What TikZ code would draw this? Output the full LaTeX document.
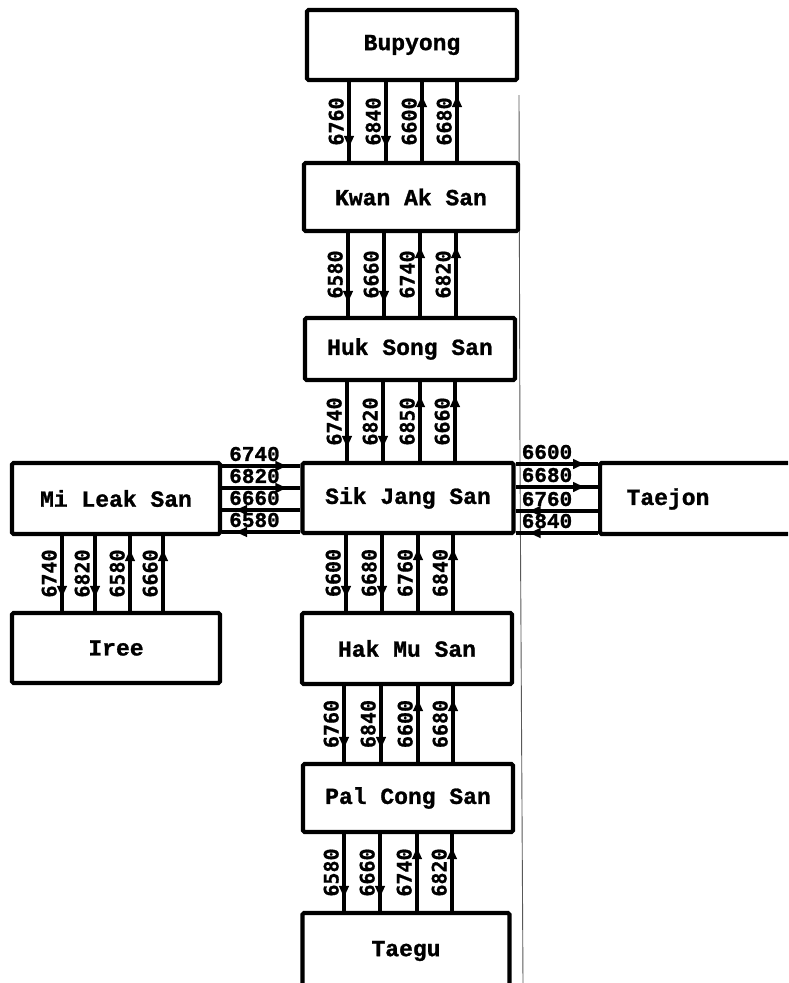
\documentclass[tikz,border=0pt]{standalone}
\usepackage{fontspec}
\usetikzlibrary{calc,decorations.markings,arrows.meta}
\newfontfamily\boxfont{Liberation Mono}[FakeBold=1.2]
\newfontfamily\numfont{DejaVu Sans Mono}[FakeBold=0.8]
\tikzset{
  box/.style={draw, line width=4.2pt, rounded corners=1.5pt, inner sep=0pt,
    font=\boxfont\bfseries\fontsize{23}{26}\selectfont},
  conn/.style={line width=3.4pt},
  arr/.style={postaction={decorate}, decoration={markings,
    mark=at position -11pt with {\arrow{Latex[length=14pt,width=11pt]}}}},
  vlab/.style={rotate=90, inner sep=0pt, anchor=south,
    font=\numfont\bfseries\fontsize{20}{22}\selectfont},
  hlab/.style={inner sep=0pt, anchor=west,
    font=\boxfont\bfseries\fontsize{21}{23}\selectfont},
  scanline/.style={line width=0.9pt, black!65}
}
\newcommand\mkvlink[3]{%
  \foreach \xx/\lab/\dd in {#3} {
    \coordinate (cc) at (\xx,0);
    \ifnum\dd=1
      \draw[conn,arr] (#1.south -| cc) -- (#2.north -| cc);
    \else
      \draw[conn,arr] (#2.north -| cc) -- (#1.south -| cc);
    \fi
    \node[vlab] at ($(#1.south -| cc)!0.5!(#2.north -| cc)+(-5,0)$) {\lab};
  }}
\begin{document}
\begin{tikzpicture}[x=1pt,y=-1pt]
\useasboundingbox (0,0) rectangle (788,983);
\clip (0,0) rectangle (788,983);
\fill[white] (0,0) rectangle (788,983);

% scan line on the right of the column
\draw[scanline] (519,95) -- (520,460) -- (523,983);

% boxes
\node[box, minimum width=210, minimum height=70] (Bup)  at (412,45)  {Bupyong};
\node[box, minimum width=214, minimum height=68] (Kwan) at (411,197) {Kwan Ak San};
\node[box, minimum width=210, minimum height=62] (Huk)  at (410,349) {Huk Song San};
\node[box, minimum width=211, minimum height=70] (Sik)  at (408,498) {Sik Jang San};
\node[box, minimum width=208, minimum height=71] (MiL)  at (116,498.5) {Mi Leak San};
\node[box, minimum width=210, minimum height=71, anchor=west] (Tae) at (598,498.5) {};
\node[inner sep=0pt, font=\boxfont\bfseries\fontsize{23}{26}\selectfont] (TaeT) at (668,499) {Taejon};
\node[box, minimum width=208, minimum height=70] (Iree) at (116,648) {Iree};
\node[box, minimum width=210, minimum height=71] (Hak)  at (407,648.5) {Hak Mu San};
\node[box, minimum width=210, minimum height=68] (Pal)  at (408,798) {Pal Cong San};
\node[box, minimum width=207, minimum height=76] (Tgu)  at (406,951) {Taegu};

% vertical links
\mkvlink{Bup}{Kwan}{349/6760/1, 386/6840/1, 422/6600/0, 457/6680/0}
\mkvlink{Kwan}{Huk}{348/6580/1, 384/6660/1, 420/6740/0, 456/6820/0}
\mkvlink{Huk}{Sik}{347/6740/1, 383/6820/1, 420/6850/0, 455/6660/0}
\mkvlink{Sik}{Hak}{346/6600/1, 382/6680/1, 418/6760/0, 453/6840/0}
\mkvlink{Hak}{Pal}{344/6760/1, 381/6840/1, 418/6600/0, 453/6680/0}
\mkvlink{Pal}{Tgu}{344/6580/1, 380/6660/1, 417/6740/0, 452/6820/0}
\mkvlink{MiL}{Iree}{62/6740/1, 95/6820/1, 130/6580/0, 163/6660/0}

% horizontal links Mi Leak San -- Sik Jang San
\foreach \yy/\lab/\dd in {466/6740/1, 488/6820/1, 510/6660/0, 532/6580/0} {
  \coordinate (cc) at (0,\yy);
  \ifnum\dd=1
    \draw[conn,arr] (MiL.east |- cc) -- (Sik.west |- cc);
  \else
    \draw[conn,arr] (Sik.west |- cc) -- (MiL.east |- cc);
  \fi
  \node[hlab] at ($(MiL.east |- cc)+(7,-12)$) {\lab};
}
% horizontal links Sik Jang San -- Taejon
\foreach \yy/\lab/\dd in {464/6600/1, 487/6680/1, 511/6760/0, 533/6840/0} {
  \coordinate (cc) at (0,\yy);
  \ifnum\dd=1
    \draw[conn,arr] (Sik.east |- cc) -- (Tae.west |- cc);
  \else
    \draw[conn,arr] (Tae.west |- cc) -- (Sik.east |- cc);
  \fi
  \node[hlab] at ($(Sik.east |- cc)+(6,-12)$) {\lab};
}
\end{tikzpicture}
\end{document}
